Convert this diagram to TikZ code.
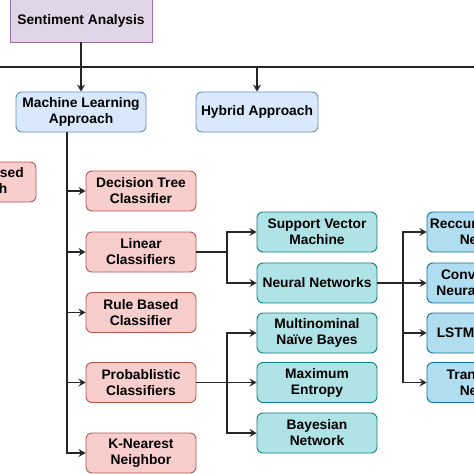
\documentclass[tikz,border=0pt]{standalone}
\usepackage{fontspec}
\setmainfont{Liberation Sans}
\usetikzlibrary{arrows.meta}
\definecolor{safill}{HTML}{E1D5E7}
\definecolor{saline}{HTML}{9673A6}
\definecolor{apfill}{HTML}{DAE8FC}
\definecolor{apline}{HTML}{6C8EBF}
\definecolor{clfill}{HTML}{F8CECC}
\definecolor{clline}{HTML}{B85450}
\definecolor{mlfill}{HTML}{B0E3E6}
\definecolor{mlline}{HTML}{0E8088}
\definecolor{dlfill}{HTML}{B1DDF0}
\definecolor{dlline}{HTML}{10739E}
\tikzset{
  box/.style={draw, rounded corners=6pt, line width=0.9pt, minimum height=40pt,
    align=center, inner sep=0pt, font=\fontsize{13.8}{16}\selectfont\bfseries},
  approach/.style={box, fill=apfill, draw=apline},
  classbox/.style={box, fill=clfill, draw=clline, minimum width=110pt},
  mlbox/.style={box, fill=mlfill, draw=mlline, minimum width=120pt},
  dlbox/.style={box, fill=dlfill, draw=dlline, minimum width=120pt},
  link/.style={line width=1.1pt, draw=black!85},
  arr/.style={link, -{Stealth[length=7pt,width=8pt,inset=2.5pt]}}
}
\begin{document}
\begin{tikzpicture}[x=1pt,y=-1pt]
\useasboundingbox (0,0) rectangle (474,474);
\clip (0,0) rectangle (474,474);
%
\node[box, rounded corners=0pt, fill=safill, draw=saline, minimum width=142pt, minimum height=43pt] (sa) at (81,20.5) {Sentiment Analysis};
\node[approach, minimum width=130pt] (ml) at (81,112) {Machine Learning\\Approach};
\node[approach, minimum width=122pt] (hy) at (257,112) {Hybrid Approach};
\node[classbox, minimum width=122pt] (lex) at (-25,182) {Lexicon Based\\Approach};
%
\node[classbox] (dt) at (141,191) {Decision Tree\\Classifier};
\node[classbox] (lin) at (141,252) {Linear\\Classifiers};
\node[classbox] (rb) at (141,312.5) {Rule Based\\Classifier};
\node[classbox] (pc) at (141,382.5) {Probablistic\\Classifiers};
\node[classbox] (knn) at (141,453) {K-Nearest\\Neighbor};
%
\node[mlbox] (svm) at (317,232) {Support Vector\\Machine};
\node[mlbox] (nn) at (317,283) {Neural Networks};
\node[mlbox] (mnb) at (317,333) {Multinominal\\Naïve Bayes};
\node[mlbox] (me) at (317,382.5) {Maximum\\Entropy};
\node[mlbox] (bn) at (317,433) {Bayesian\\Network};
%
\node[dlbox] (rnn) at (487,232) {Reccurent Neural\\Network};
\node[dlbox] (cnn) at (487,283) {Convolutional\\Neural Network};
\node[dlbox] (lstm) at (487,333) {LSTM and GRU};
\node[dlbox] (tr) at (487,382.5) {Transformer\\Network};
%
\coordinate (busl) at (-25,67);
\coordinate (busr) at (480,67);
\coordinate (trunk) at (67,0);
\coordinate (jl) at (227,0);
\coordinate (jr) at (403,0);
%
\draw[arr] (sa) -- (ml);
\draw[link] (busl) -- (busr);
\draw[arr] (busl) -- (lex);
\draw[arr] (hy.north |- busr) -- (hy);
%
\draw[arr] (ml.south -| trunk) |- (knn);
\foreach \c in {dt,lin,rb,pc}
  \draw[arr] (\c -| trunk) -- (\c);
%
\draw[link] (lin) -- (lin -| jl);
\draw[arr] (lin -| jl) |- (svm);
\draw[arr] (lin -| jl) |- (nn);
\draw[arr] (pc) -- (me);
\draw[arr] (pc -| jl) |- (mnb);
\draw[arr] (pc -| jl) |- (bn);
%
\draw[arr] (nn) -- (cnn);
\draw[arr] (nn -| jr) |- (rnn);
\draw[arr] (nn -| jr) |- (lstm);
\draw[arr] (nn -| jr) |- (tr);
\end{tikzpicture}
\end{document}
